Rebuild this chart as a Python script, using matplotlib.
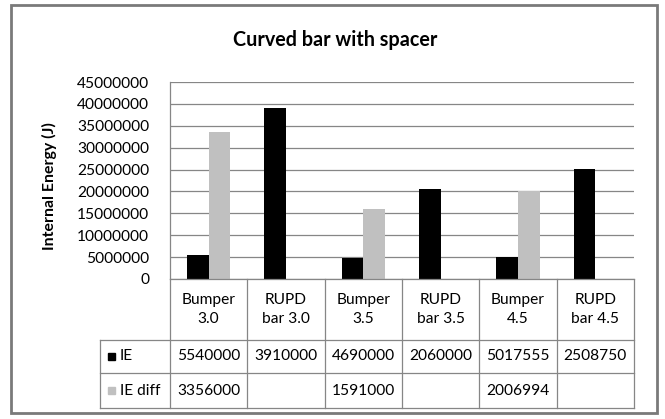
import numpy as np
import matplotlib
matplotlib.use("Agg")
import matplotlib.pyplot as plt
from matplotlib import transforms
from matplotlib.lines import Line2D
from matplotlib.patches import Rectangle

plt.rcParams['font.family'] = ['Lato', 'DejaVu Sans']

# --- data ---
categories = ["Bumper\n3.0", "RUPD\nbar 3.0", "Bumper\n3.5", "RUPD\nbar 3.5", "Bumper\n4.5", "RUPD\nbar 4.5"]
ie = [5540000, 39100000, 4690000, 20600000, 5017555, 25087500]
ie_diff = [33560000, np.nan, 15910000, np.nan, 20069940, np.nan]
# text printed in the data table (as shown in the original)
ie_table = ["5540000", "3910000", "4690000", "2060000", "5017555", "2508750"]
ie_diff_table = ["3356000", "", "1591000", "", "2006994", ""]
yticks = np.arange(0, 45000001, 5000000)

W, H = 665, 419
fig = plt.figure(figsize=(W / 100, H / 100), dpi=100)

def fx(px):
    return px / W

def fy(py):
    return 1 - py / H

grey = "#868686"

# outer chart frame
fig.add_artist(Rectangle((fx(11), fy(413)), fx(657) - fx(11), fy(5) - fy(413),
                         transform=fig.transFigure, fill=False, edgecolor="#7a7a7a", lw=2))

ax = fig.add_axes([fx(170), fy(279), fx(634) - fx(170), fy(82) - fy(279)])

x = np.arange(len(categories))
bw = 0.28
ax.bar(x - bw / 2, ie, bw, color="black", zorder=3)
ax.bar(x + bw / 2, ie_diff, bw, color="#c0c0c0", zorder=3)

ax.set_xlim(-0.5, len(categories) - 0.5)
ax.set_ylim(0, 45000000)
ax.set_yticks(yticks)
ax.set_yticklabels([str(int(v)) for v in yticks])
ax.set_xticks([])
ax.tick_params(axis='y', length=0, pad=15, labelsize=11.2)
ax.grid(axis='y', color=grey, lw=0.9, zorder=0)
for s in ["top", "right", "bottom"]:
    ax.spines[s].set_visible(False)
ax.spines["left"].set_color(grey)
ax.spines["left"].set_linewidth(0.9)

ax.set_ylabel("Internal Energy (J)", fontsize=11.4, fontweight="bold")
ax.yaxis.set_label_coords(-0.243, 0.47)

fig.text(fx(335), fy(40), "Curved bar with spacer", ha="center", va="center",
         fontsize=14.2, fontweight="bold")

# --- data table below the plot ---
blend = transforms.blended_transform_factory(ax.transData, fig.transFigure)
x_lo, x_hi = -0.5, len(categories) - 0.5
row_top, row_cat, row_ie, row_bot = 279, 340, 373, 408
left_px = 100

def hline(py, x0_fig):
    # from the legend column (figure coords) to the right end of the plot
    fig.add_artist(Line2D([x0_fig, fx(634)], [fy(py), fy(py)], transform=fig.transFigure,
                          color=grey, lw=0.9))

fig.add_artist(Line2D([x_lo, x_hi], [fy(row_top), fy(row_top)], transform=blend, color=grey, lw=0.9))
for py in (row_cat, row_ie, row_bot):
    hline(py, fx(left_px))

for b in np.arange(x_lo, x_hi + 0.01, 1.0):
    fig.add_artist(Line2D([b, b], [fy(row_top), fy(row_bot)], transform=blend, color=grey, lw=0.9))
fig.add_artist(Line2D([fx(left_px), fx(left_px)], [fy(row_cat), fy(row_bot)],
                      transform=fig.transFigure, color=grey, lw=0.9))

for i, cat in enumerate(categories):
    fig.text(i, fy((row_top + row_cat) / 2), cat, transform=blend, ha="center", va="center",
             fontsize=11.2, linespacing=1.45)
    fig.text(i, fy((row_cat + row_ie) / 2), ie_table[i], transform=blend, ha="center",
             va="center", fontsize=11.2)
    fig.text(i, fy((row_ie + row_bot) / 2), ie_diff_table[i], transform=blend, ha="center",
             va="center", fontsize=11.2)

# legend keys in the row headers
for py, col, name in [((row_cat + row_ie) / 2, "black", "IE"),
                      ((row_ie + row_bot) / 2, "#c0c0c0", "IE diff")]:
    fig.add_artist(Rectangle((fx(108), fy(py + 3.5)), fx(7), 7 / H, transform=fig.transFigure,
                             color=col))
    fig.text(fx(120), fy(py), name, ha="left", va="center", fontsize=11.2)

fig.savefig("out.png", dpi=100)
